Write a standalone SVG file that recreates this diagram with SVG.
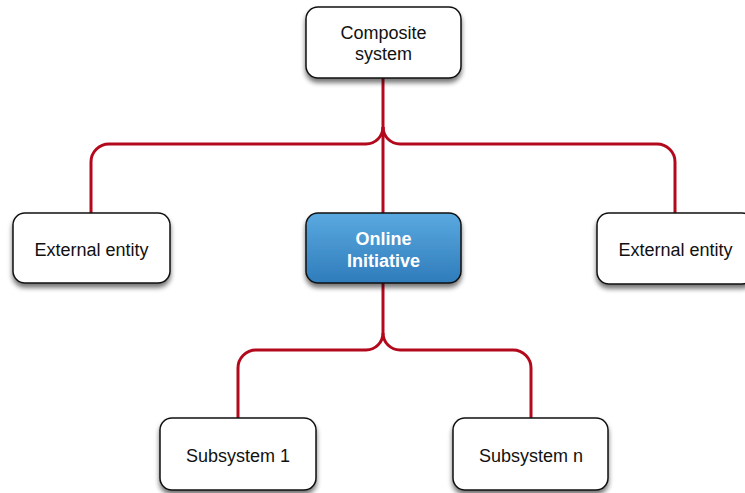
<svg xmlns="http://www.w3.org/2000/svg" width="745" height="493" viewBox="0 0 745 493">
  <defs>
    <linearGradient id="blueFill" x1="0" y1="0" x2="0" y2="1">
      <stop offset="0" stop-color="#5aa9e0"/>
      <stop offset="1" stop-color="#2f7cbb"/>
    </linearGradient>
    <filter id="shadow" x="-20%" y="-20%" width="140%" height="160%">
      <feGaussianBlur in="SourceAlpha" stdDeviation="2.5"/>
      <feOffset dx="0" dy="4" result="blur"/>
      <feComponentTransfer><feFuncA type="linear" slope="0.55"/></feComponentTransfer>
      <feMerge><feMergeNode/><feMergeNode in="SourceGraphic"/></feMerge>
    </filter>
  </defs>
  <style>
    .box { fill: #ffffff; stroke: #111111; stroke-width: 1.5; filter: url(#shadow); }
    .hub { fill: url(#blueFill); stroke: #111111; stroke-width: 1.5; filter: url(#shadow); }
    .label { font-family: "Liberation Sans", Arial, sans-serif; font-size: 18px; fill: #111111; text-anchor: middle; }
    .hubLabel { font-family: "Liberation Sans", Arial, sans-serif; font-size: 18px; font-weight: bold; fill: #ffffff; text-anchor: middle; }
    .link { fill: none; stroke: #b3091c; stroke-width: 3; }
  </style>

  <g id="connectors">
    <!-- trunk from composite system through the hub -->
    <path class="link" d="M383 78 V213"/>
    <!-- upper branches -->
    <path class="link" d="M91 213 V162 A18 18 0 0 1 109 144 H366 A17 17 0 0 0 383 127"/>
    <path class="link" d="M675 213 V162 A18 18 0 0 0 657 144 H400 A17 17 0 0 1 383 127"/>
    <!-- lower branches -->
    <path class="link" d="M383 283 V333"/>
    <path class="link" d="M238 418 V368 A18 18 0 0 1 256 350 H366 A17 17 0 0 0 383 333"/>
    <path class="link" d="M531 418 V368 A18 18 0 0 0 513 350 H400 A17 17 0 0 1 383 333"/>
  </g>

  <g id="composite-system">
    <rect class="box" x="306" y="7" width="155" height="71" rx="12"/>
    <text class="label" x="383.5" y="38.5">Composite</text>
    <text class="label" x="383.5" y="60">system</text>
  </g>

  <g id="external-entity-left">
    <rect class="box" x="13" y="213" width="157" height="70" rx="12"/>
    <text class="label" x="91.5" y="255.5">External entity</text>
  </g>

  <g id="online-initiative">
    <rect class="hub" x="306" y="213" width="155" height="70" rx="12"/>
    <text class="hubLabel" x="383.5" y="244.5">Online</text>
    <text class="hubLabel" x="383.5" y="266.5">Initiative</text>
  </g>

  <g id="external-entity-right">
    <rect class="box" x="597" y="213" width="157" height="71" rx="12"/>
    <text class="label" x="675.5" y="255.5">External entity</text>
  </g>

  <g id="subsystem-1">
    <rect class="box" x="160" y="418" width="156" height="72" rx="12"/>
    <text class="label" x="238" y="461.5">Subsystem 1</text>
  </g>

  <g id="subsystem-n">
    <rect class="box" x="453" y="418" width="155" height="72" rx="12"/>
    <text class="label" x="531" y="461.5">Subsystem n</text>
  </g>
</svg>
